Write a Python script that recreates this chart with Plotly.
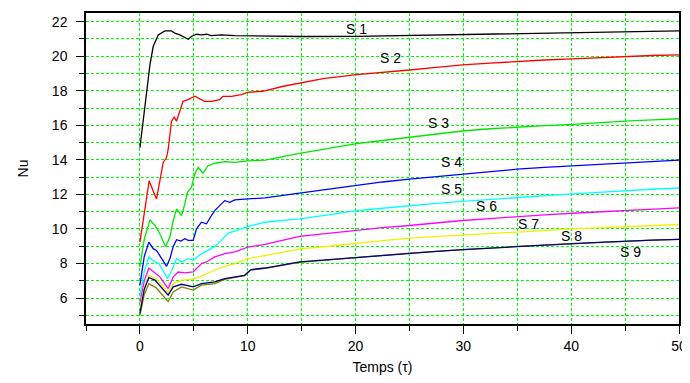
import plotly.graph_objects as go

# ---------------- data ----------------
names = ["S 1", "S 2", "S 3", "S 4", "S 5", "S 6", "S 7", "S 8", "S 9"]
colors = ["#000000", "#ff0000", "#00e600", "#0000ff", "#00ffff",
          "#ff00ff", "#f0f000", "#808000", "#000080"]

t_s1 = [0, 0.46, 0.93, 1.23, 1.7, 2.31, 2.93, 3.24, 3.7, 4.17, 4.47, 4.78, 5.25,
        5.7, 6.2, 6.6, 7.56, 8.8, 11.4, 15, 20, 25, 30, 35, 40, 45, 50]
nu_s1 = [14.7, 17.2, 19.5, 20.56, 21.23, 21.46, 21.46, 21.33, 21.23, 21.08, 20.98,
         21.14, 21.27, 21.23, 21.27, 21.19, 21.23, 21.19, 21.16, 21.14, 21.15, 21.2,
         21.25, 21.3, 21.36, 21.42, 21.46]

t_s2 = [0, 0.46, 0.86, 1.23, 1.54, 1.85, 2.16, 2.47, 2.62, 2.93, 3.18, 3.4, 3.7,
        4.0, 4.47, 5.09, 6.0, 6.64, 7.4, 7.7, 8.5, 9.4, 10.0, 11.4, 13.3, 14.8, 17,
        20.1, 22.5, 25, 27.5, 29.9, 32.5, 35, 37.5, 40.1, 42.5, 45, 47.5, 50]
nu_s2 = [9.24, 11.26, 12.79, 12.2, 11.74, 12.79, 13.85, 14.13, 14.6, 16.24, 16.47,
         16.24, 16.82, 17.39, 17.49, 17.68, 17.39, 17.39, 17.49, 17.68, 17.68, 17.78,
         17.91, 17.97, 18.26, 18.45, 18.7, 18.93, 19.05, 19.2, 19.35, 19.5, 19.6, 19.7,
         19.78, 19.85, 19.92, 19.99, 20.04, 20.08]

t_s3 = [0, 0.4, 0.93, 1.39, 1.7, 2.0, 2.38, 2.78, 3.09, 3.4, 3.86, 4.17, 4.41, 4.78,
        5.09, 5.4, 5.86, 6.3, 6.9, 7.87, 8.8, 10.0, 11.6, 14.8, 17.5, 20.1, 22.5, 25,
        27.5, 29.9, 32.5, 35, 37.5, 40.1, 42.5, 45, 47.5, 50]
nu_s3 = [7.8, 9.4, 10.53, 10.2, 9.91, 9.53, 8.99, 9.53, 10.49, 11.16, 10.78, 11.45,
         12.12, 12.4, 13.18, 13.56, 13.23, 13.65, 13.79, 13.9, 13.85, 13.94, 13.98,
         14.38, 14.68, 14.94, 15.12, 15.32, 15.5, 15.67, 15.8, 15.9, 15.98, 16.05,
         16.15, 16.24, 16.31, 16.38]

t_s4 = [0, 0.4, 0.83, 1.23, 1.54, 2.0, 2.47, 2.78, 3.09, 3.4, 3.8, 4.17, 4.47, 4.94,
        5.25, 5.71, 6.17, 6.64, 6.94, 7.4, 7.87, 8.33, 8.8, 10.0, 11.6, 14.8, 17.5,
        20.1, 22.5, 25, 27.5, 29.9, 32.5, 35, 37.5, 40.1, 42.5, 45, 47.5, 50]
nu_s4 = [6.75, 8.4, 9.24, 8.86, 8.76, 8.28, 7.84, 8.28, 8.99, 9.38, 9.3, 9.44, 9.34,
         9.34, 10.01, 10.39, 10.3, 10.78, 11.06, 11.35, 11.64, 11.54, 11.68, 11.74,
         11.8, 12.07, 12.3, 12.54, 12.72, 12.88, 13.03, 13.18, 13.32, 13.46, 13.56,
         13.65, 13.75, 13.84, 13.92, 13.98]

t_s5 = [0, 0.4, 0.83, 1.39, 1.76, 2.56, 2.93, 3.4, 3.86, 4.47, 4.94, 5.71, 6.3, 6.94,
        7.56, 8.18, 8.8, 10.0, 11.6, 14.8, 17.5, 20.1, 22.5, 25, 27.5, 29.9, 32.5, 35,
        37.5, 40.1, 42.5, 45, 47.5, 50]
nu_s5 = [6.08, 7.5, 8.38, 8.09, 8.0, 7.13, 7.57, 8.28, 8.09, 8.28, 8.19, 8.57, 8.76,
         8.99, 9.34, 9.76, 9.88, 10.14, 10.39, 10.58, 10.82, 11.06, 11.2, 11.35, 11.48,
         11.6, 11.72, 11.83, 11.93, 12.03, 12.12, 12.22, 12.3, 12.37]

t_s6 = [0, 0.4, 0.83, 1.39, 1.85, 2.62, 3.09, 3.55, 4.17, 4.94, 5.71, 6.17, 6.94,
        7.87, 8.8, 10.0, 11.6, 14.8, 17.5, 20.1, 22.5, 25, 27.5, 29.9, 32.5, 35, 37.5,
        40.1, 42.5, 45, 47.5, 50]
nu_s6 = [5.69, 7.0, 7.74, 7.46, 7.23, 6.55, 7.23, 7.51, 7.46, 7.51, 8.0, 8.09, 8.38,
         8.57, 8.67, 8.95, 9.11, 9.57, 9.76, 9.95, 10.08, 10.2, 10.35, 10.49, 10.6,
         10.72, 10.82, 10.91, 10.98, 11.06, 11.14, 11.22]

t_s7 = [0, 0.4, 0.83, 1.5, 2.62, 3.09, 3.86, 4.78, 5.55, 6.17, 6.94, 7.87, 8.8, 10.0,
        11.6, 14.8, 17.5, 20.1, 22.5, 25, 27.5, 29.9, 32.5, 35, 37.5, 40.1, 42.5, 45,
        47.5, 50]
nu_s7 = [5.4, 6.6, 7.32, 7.13, 6.31, 6.84, 7.04, 7.08, 7.23, 7.42, 7.61, 7.84, 8.0,
         8.28, 8.47, 8.83, 9.0, 9.18, 9.33, 9.47, 9.55, 9.63, 9.73, 9.82, 9.91, 10.0,
         10.07, 10.14, 10.2, 10.26]

t_s8 = [0, 0.4, 0.83, 1.5, 2.62, 3.09, 3.86, 4.94, 5.71, 6.94, 7.87, 8.8, 9.7, 10.3,
        11.6, 14.8, 17.5, 20.1, 22.5, 25, 27.5, 29.9, 32.5, 35, 37.5, 40.1, 42.5, 45,
        47.5, 50]
nu_s8 = [5.0, 6.2, 6.84, 6.6, 5.79, 6.36, 6.65, 6.46, 6.75, 6.84, 7.08, 7.2, 7.3,
         7.62, 7.72, 8.07, 8.21, 8.37, 8.5, 8.6, 8.7, 8.8, 8.9, 8.99, 9.07, 9.15, 9.22,
         9.29, 9.35, 9.4]

t_s9 = [0, 0.4, 0.83, 1.39, 2.62, 3.09, 3.86, 4.94, 5.71, 6.94, 7.87, 8.8, 9.7, 10.3,
        11.6, 14.8, 17.5, 20.1, 22.5, 25, 27.5, 29.9, 32.5, 35, 37.5, 40.1, 42.5, 45,
        47.5, 50]
nu_s9 = [5.12, 6.5, 7.19, 7.04, 6.17, 6.65, 6.8, 6.65, 6.84, 6.94, 7.13, 7.23, 7.32,
         7.65, 7.74, 8.09, 8.22, 8.38, 8.5, 8.61, 8.7, 8.8, 8.9, 8.99, 9.07, 9.15,
         9.22, 9.3, 9.35, 9.4]

series_t = [t_s1, t_s2, t_s3, t_s4, t_s5, t_s6, t_s7, t_s8, t_s9]
series_nu = [nu_s1, nu_s2, nu_s3, nu_s4, nu_s5, nu_s6, nu_s7, nu_s8, nu_s9]

# label anchor positions (data coords)
label_t = [20.1, 23.2, 27.7, 28.9, 28.9, 32.1, 36.0, 40.0, 45.5]
label_nu = [21.6, 19.87, 16.13, 13.88, 12.33, 11.35, 10.26, 9.57, 8.65]

x_ticks = [0, 10, 20, 30, 40, 50]
y_ticks = [6, 8, 10, 12, 14, 16, 18, 20, 22]

# ---------------- figure ----------------
FONT = "Liberation Sans, Arial, sans-serif"
fig = go.Figure()
for name, col, tx, ny in zip(names, colors, series_t, series_nu):
    fig.add_trace(go.Scatter(x=tx, y=ny, mode="lines", name=name,
                             line=dict(color=col, width=1.3)))

for name, lx, ly in zip(names, label_t, label_nu):
    fig.add_annotation(x=lx, y=ly, text=name, showarrow=False,
                       font=dict(family=FONT, size=14, color="black"))

grid_col = "#00ff00"
axis_common = dict(showline=True, mirror=True, linecolor="black", linewidth=1.5,
                   ticks="outside", tickcolor="black", ticklen=8, tickwidth=1,
                   showgrid=True, gridcolor=grid_col, gridwidth=1, griddash="3px,2px",
                   zeroline=False,
                   tickfont=dict(family=FONT, size=14, color="black"))

# the page body adds an 8px offset, so the figure is 8px smaller than the window
fig.update_layout(
    width=682, height=375,
    margin=dict(l=78, r=9, t=3, b=59),
    paper_bgcolor="white", plot_bgcolor="white",
    showlegend=False,
    font=dict(family=FONT, color="black"),
    xaxis=dict(range=[-5, 50], tickvals=x_ticks,
               title=dict(text="Temps (τ)", font=dict(family=FONT, size=14), standoff=10),
               minor=dict(dtick=5, tick0=0, showgrid=True, gridcolor=grid_col,
                          griddash="3px,2px", ticks="outside", ticklen=5,
                          tickcolor="black"),
               **axis_common),
    yaxis=dict(range=[4.5, 22.5], tickvals=y_ticks, ticklabelstandoff=6,
               title=dict(text="Nu", font=dict(family=FONT, size=14), standoff=20),
               minor=dict(dtick=1, tick0=0, showgrid=True, gridcolor=grid_col,
                          griddash="3px,2px", ticks="outside", ticklen=5,
                          tickcolor="black"),
               **axis_common),
)

fig.write_html("out.html")
